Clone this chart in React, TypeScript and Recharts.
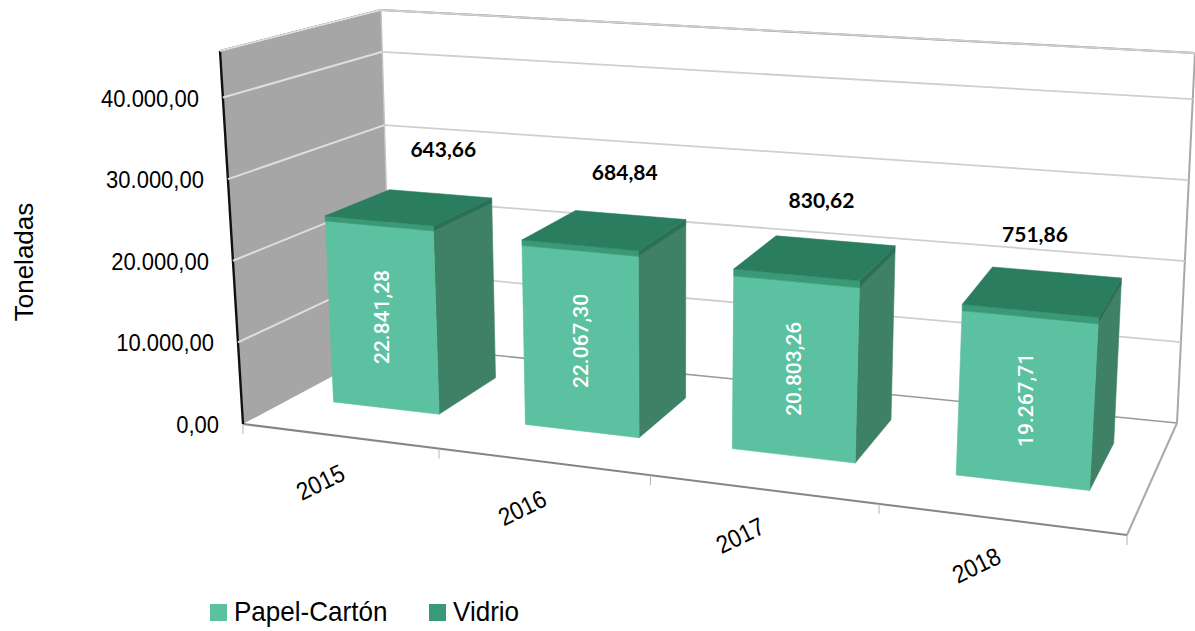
import React from 'react';
import { BarChart, Bar, XAxis, YAxis, CartesianGrid, Legend, LabelList } from 'recharts';

const years = ['2015', '2016', '2017', '2018'];
const papelCarton = [22841.28, 22067.3, 20803.26, 19267.71];
const vidrio = [643.66, 684.84, 830.62, 751.86];
const valueTicks = [0, 10000, 20000, 30000, 40000];
const VALUE_MAX = 45700;

const W = 1195;
const H = 631;
const BOLD_FONT = 'Lato, sans-serif';
const AXIS_FONT = '"Liberation Sans", Arial, sans-serif';

const tableRows = years.map((year, i) => ({ year, papel: papelCarton[i], vidrio: vidrio[i] }));

// Box of the 3D scene, named by its left/right and front/back edges.
const floorCorners = { fl: [243, 424], bl: [391, 345], fr: [1127, 535], br: [1177, 423] };
const ceilCorners = { fl: [220, 51], bl: [381, 10], fr: [1153, 123], br: [1195, 53] };
const FORESHORTEN = 0.855;
const BAR_FRONT = 0.34;
const BAR_BACK = 0.77;

const mix = (a: number, b: number, t: number) => a + (b - a) * t;

// Perspective projection of a point in the unit box (u across, v up, w into the page).
function project(u: number, v: number, w: number): [number, number] {
  const t = (FORESHORTEN * u) / (1 + (FORESHORTEN - 1) * u);
  const coord = (k: number) => {
    const bottom = mix(
      mix(floorCorners.fl[k], floorCorners.bl[k], w),
      mix(floorCorners.fr[k], floorCorners.br[k], w),
      t,
    );
    const top = mix(
      mix(ceilCorners.fl[k], ceilCorners.bl[k], w),
      mix(ceilCorners.fr[k], ceilCorners.br[k], w),
      t,
    );
    return mix(bottom, top, v);
  };
  return [coord(0), coord(1)];
}

const poly = (pts: [number, number][]) => pts.map((p) => `${p[0].toFixed(1)},${p[1].toFixed(1)}`).join(' ');

const formatEs = (value: number) => {
  const [whole, dec] = value.toFixed(2).split('.');
  return `${whole.replace(/\B(?=(\d{3})+(?!\d))/g, '.')},${dec}`;
};

const unitBox = (p: any) => ({
  u0: p.x / W,
  u1: (p.x + p.width) / W,
  v0: 1 - (p.y + p.height) / H,
  v1: 1 - p.y / H,
});

function PapelBox(props: any) {
  const { u0, u1, v0, v1 } = unitBox(props);
  const front = poly([project(u0, v0, BAR_FRONT), project(u1, v0, BAR_FRONT), project(u1, v1, BAR_FRONT), project(u0, v1, BAR_FRONT)]);
  const side = poly([project(u1, v0, BAR_FRONT), project(u1, v0, BAR_BACK), project(u1, v1, BAR_BACK), project(u1, v1, BAR_FRONT)]);
  return (
    <g>
      <polygon points={side} fill="#3f8167" stroke="#3f8167" strokeWidth={0.6} />
      <polygon points={front} fill={props.fill} stroke={props.fill} strokeWidth={0.6} />
    </g>
  );
}

function VidrioBox(props: any) {
  const { u0, u1, v0, v1 } = unitBox(props);
  const front = poly([project(u0, v0, BAR_FRONT), project(u1, v0, BAR_FRONT), project(u1, v1, BAR_FRONT), project(u0, v1, BAR_FRONT)]);
  const side = poly([project(u1, v0, BAR_FRONT), project(u1, v0, BAR_BACK), project(u1, v1, BAR_BACK), project(u1, v1, BAR_FRONT)]);
  const top = poly([project(u0, v1, BAR_FRONT), project(u1, v1, BAR_FRONT), project(u1, v1, BAR_BACK), project(u0, v1, BAR_BACK)]);
  return (
    <g>
      <polygon points={side} fill="#2b6f56" stroke="#2b6f56" strokeWidth={0.6} />
      <polygon points={front} fill={props.fill} stroke={props.fill} strokeWidth={0.6} />
      <polygon points={top} fill="#2a7d5e" stroke="#2a7d5e" strokeWidth={0.6} />
    </g>
  );
}

// Side wall, floor edges and frame of the box.
function Room() {
  const fl0 = project(0, 0, 0);
  const bl0 = project(0, 0, 1);
  const br0 = project(1, 0, 1);
  const fr0 = project(1, 0, 0);
  const fl1 = project(0, 1, 0);
  const bl1 = project(0, 1, 1);
  const br1 = project(1, 1, 1);
  const seg = (a: [number, number], b: [number, number], stroke: string, width: number) => (
    <line x1={a[0]} y1={a[1]} x2={b[0]} y2={b[1]} stroke={stroke} strokeWidth={width} />
  );
  return (
    <g>
      <polygon points={poly([fl0, bl0, bl1, fl1])} fill="#a6a6a6" />
      {seg(bl1, br1, '#858585', 2)}
      {seg(br1, br0, '#a8a8a8', 2)}
      {seg(bl0, br0, '#9a9a9a', 1.6)}
      {seg(br0, fr0, '#a8a8a8', 2)}
      {seg(fl0, fr0, '#858585', 2)}
      {seg(bl0, bl1, '#c4c4c4', 1.4)}
      {seg(fl1, bl1, '#5f5f5f', 2)}
      {seg(fl0, fl1, '#111111', 2.4)}
    </g>
  );
}

const gridValue = (props: any) => 1 - props.y1 / H;

// First grid layer: the zero value paints the room itself.
function renderRoomLine(props: any) {
  return gridValue(props) < 0.001 ? <Room key="room" /> : <g key={props.key ?? props.index} />;
}

// Second grid layer: every other value continues across the side and back walls.
function renderGridLine(props: any) {
  const v = gridValue(props);
  if (v < 0.001) return <g key={props.key ?? props.index} />;
  const a = project(0, v, 0);
  const b = project(0, v, 1);
  const c = project(1, v, 1);
  return (
    <g key={props.key ?? props.index}>
      <line x1={a[0]} y1={a[1]} x2={b[0]} y2={b[1]} stroke="#dedede" strokeWidth={2} />
      <line x1={b[0]} y1={b[1]} x2={c[0]} y2={c[1]} stroke="#cfcfcf" strokeWidth={1.8} />
    </g>
  );
}

function YearTick(props: any) {
  const { payload, index } = props;
  const band = W / years.length;
  const u = payload.coordinate / W;
  const [x, y] = project(u, 0, 0);
  const tickAt = (coordinate: number) => {
    const p = project(coordinate / W, 0, 0);
    return <line x1={p[0]} y1={p[1]} x2={p[0]} y2={p[1] + 10} stroke="#b5b5b5" strokeWidth={1} />;
  };
  const lx = x - 14 - 7 * u;
  const ly = y + 54;
  return (
    <g>
      {tickAt(payload.coordinate - band / 2)}
      {index === years.length - 1 && tickAt(payload.coordinate + band / 2)}
      <text
        x={0}
        y={0}
        textAnchor="middle"
        transform={`translate(${lx} ${ly}) rotate(-26) scale(0.9 1)`}
        fontFamily={AXIS_FONT}
        fontSize={25}
        fill="#000"
      >
        {payload.value}
      </text>
    </g>
  );
}

function ValueTick(props: any) {
  const { payload } = props;
  const [x, y] = project(0, payload.value / VALUE_MAX, 0);
  return (
    <text
      x={0}
      y={0}
      textAnchor="end"
      transform={`translate(${x - 24} ${y + 9}) scale(0.89 1)`}
      fontFamily={AXIS_FONT}
      fontSize={24.7}
      fill="#000"
    >
      {formatEs(payload.value)}
    </text>
  );
}

const renderAxisTitle = () => (
  <text
    x={33}
    y={262}
    textAnchor="middle"
    transform="rotate(-90 33 262)"
    fontFamily={AXIS_FONT}
    fontSize={26}
    fill="#000"
  >
    Toneladas
  </text>
);

function PapelLabel(props: any) {
  const box = props.viewBox ?? props;
  const { u0, u1, v0, v1 } = unitBox(box);
  const [x, y] = project((u0 + u1) / 2, (v0 + v1) / 2, BAR_FRONT);
  return (
    <text
      x={x}
      y={y}
      textAnchor="middle"
      dominantBaseline="central"
      transform={`rotate(-90 ${x} ${y})`}
      fontFamily="Roboto, sans-serif"
      fontWeight={500}
      fontSize={21}
      fill="#fff"
    >
      {formatEs(Number(props.value))}
    </text>
  );
}

function VidrioLabel(props: any) {
  const box = props.viewBox ?? props;
  const { u0, u1, v1 } = unitBox(box);
  const uc = (u0 + u1) / 2;
  const [x, y] = project(uc, v1, (BAR_FRONT + BAR_BACK) / 2);
  return (
    <text
      x={x + 41 - 56 * uc}
      y={y - 50}
      textAnchor="middle"
      fontFamily={BOLD_FONT}
      fontWeight={700}
      fontSize={21}
      fill="#000"
    >
      {formatEs(Number(props.value))}
    </text>
  );
}

function LegendRow(props: any) {
  const items = props.payload ?? [];
  return (
    <div style={{ display: 'flex', alignItems: 'center', height: 34, fontFamily: AXIS_FONT, fontSize: 28, color: '#000' }}>
      {items.map((item: any, i: number) => (
        <div key={item.value} style={{ display: 'flex', alignItems: 'center', marginRight: i === 0 ? 30 : 0 }}>
          <span style={{ width: 17, height: 17, background: item.color, marginRight: 7, display: 'inline-block' }} />
          <span style={{ display: 'inline-block', transform: 'scaleX(0.93)', transformOrigin: 'left center', whiteSpace: 'nowrap' }}>
            {item.value}
          </span>
        </div>
      ))}
    </div>
  );
}

export default function App() {
  return (
    <div style={{ position: 'absolute', left: 0, top: 0, width: W, height: H, background: '#fff' }}>
      <BarChart
        width={W}
        height={H}
        data={tableRows}
        margin={{ top: 0, right: 0, bottom: -1, left: -1 }}
        barCategoryGap="22%"
      >
        <CartesianGrid vertical={false} horizontal={renderRoomLine} stroke="none" />
        <CartesianGrid vertical={false} horizontal={renderGridLine} stroke="none" />
        <XAxis dataKey="year" height={1} axisLine={false} tickLine={false} interval={0} tick={YearTick} />
        <YAxis
          type="number"
          width={1}
          domain={[0, VALUE_MAX]}
          ticks={valueTicks}
          interval={0}
          axisLine={false}
          tickLine={false}
          tick={ValueTick}
          label={renderAxisTitle}
        />
        <Legend
          layout="horizontal"
          align="center"
          verticalAlign="middle"
          content={LegendRow}
          wrapperStyle={{ left: 210, top: 595, width: 400, height: 34 }}
        />
        <Bar dataKey="papel" name="Papel-Cartón" stackId="reciclaje" fill="#5cc1a0" shape={PapelBox} isAnimationActive={false}>
          <LabelList dataKey="papel" content={PapelLabel} />
        </Bar>
        <Bar dataKey="vidrio" name="Vidrio" stackId="reciclaje" fill="#3a9a78" shape={VidrioBox} isAnimationActive={false}>
          <LabelList dataKey="vidrio" content={VidrioLabel} />
        </Bar>
      </BarChart>
    </div>
  );
}
